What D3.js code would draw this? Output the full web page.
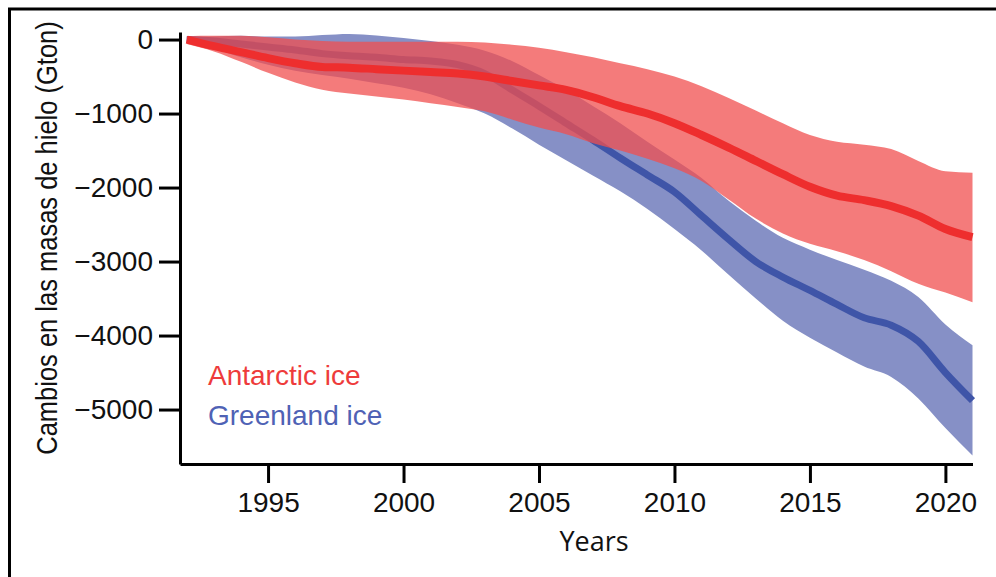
<!DOCTYPE html>
<html>
<head>
<meta charset="utf-8">
<script src="https://cdn.jsdelivr.net/npm/d3@7"></script>
<style>
  body { margin: 0; background: #fff; }
  svg { display: block; }
  .tick text { font-family: "Liberation Sans Narrow", "Arial Narrow", "Liberation Sans", Arial, sans-serif; font-size: 28px; fill: #111; }
</style>
</head>
<body>
<div id="chart"></div>
<script>
// values (Gton)
var years = [1992, 1993, 1994, 1995, 1996, 1997, 1998, 1999, 2000, 2001,
             2002, 2003, 2004, 2005, 2006, 2007, 2008, 2009, 2010, 2011,
             2012, 2013, 2014, 2015, 2016, 2017, 2018, 2019, 2020, 2021];

var antarcticMid = [0, -90, -170, -250, -320, -370, -380, -400, -420, -440,
                    -460, -500, -560, -620, -680, -780, -900, -1000, -1130, -1290,
                    -1460, -1640, -1820, -1990, -2110, -2170, -2250, -2380, -2560, -2670];
var antarcticHigh = [45, 50, 50, 30, 0, -20, -30, -30, -30, -30,
                     -30, -40, -70, -110, -170, -240, -320, -400, -500, -630,
                     -790, -960, -1130, -1290, -1380, -1420, -1480, -1640, -1780, -1800];
var antarcticLow = [-60, -160, -300, -450, -580, -680, -730, -770, -810, -860,
                    -910, -970, -1080, -1190, -1280, -1400, -1500, -1610, -1740, -1910,
                    -2160, -2420, -2620, -2760, -2860, -2980, -3130, -3300, -3420, -3550];

var greenlandMid = [0, -20, -60, -100, -140, -190, -220, -240, -270, -290,
                    -340, -460, -680, -900, -1130, -1360, -1600, -1830, -2060, -2380,
                    -2700, -3000, -3210, -3390, -3580, -3760, -3860, -4080, -4500, -4880];
var greenlandHigh = [30, 40, 50, 40, 40, 60, 75, 55, 20, -20,
                     -70, -150, -290, -480, -680, -900, -1130, -1380, -1620, -1870,
                     -2180, -2450, -2680, -2840, -2980, -3110, -3260, -3480, -3850, -4130];
var greenlandLow = [-30, -120, -240, -340, -420, -480, -530, -590, -650, -740,
                    -860, -1000, -1200, -1420, -1630, -1840, -2050, -2290, -2560, -2850,
                    -3180, -3500, -3800, -4030, -4230, -4420, -4560, -4850, -5250, -5620];

var xTicks = [1995, 2000, 2005, 2010, 2015, 2020];
var yTicks = [0, -1000, -2000, -3000, -4000, -5000];

var W = 996, H = 577;
var svg = d3.select('#chart').append('svg').attr('width', W).attr('height', H);

// outer frame (cut by the right and bottom edges)
svg.append('rect').attr('x', 9.5).attr('y', 9).attr('width', 1100).attr('height', 700)
    .attr('fill', 'none').attr('stroke', '#000').attr('stroke-width', 3);

var x = d3.scaleLinear().domain([1991.75, 2021]).range([180, 972.5]);
var y = d3.scaleLinear().domain([-5736, 102]).range([464, 32]);

function rows(mid, lo, hi){
    return years.map(function(yr, i){ return {x: yr, m: mid[i], lo: lo[i], hi: hi[i]}; });
}
var ant = rows(antarcticMid, antarcticLow, antarcticHigh);
var gre = rows(greenlandMid, greenlandLow, greenlandHigh);

var curve = d3.curveMonotoneX;
var band = d3.area().curve(curve)
    .x(function(d){ return x(d.x); })
    .y0(function(d){ return y(d.lo); })
    .y1(function(d){ return y(d.hi); });
var line = d3.line().curve(curve)
    .x(function(d){ return x(d.x); })
    .y(function(d){ return y(d.m); });

var g = svg.append('g');
g.append('path').datum(gre).attr('d', band).attr('fill', '#8690c6');
g.append('path').datum(gre).attr('d', line).attr('fill', 'none')
    .attr('stroke', '#3f55a8').attr('stroke-width', 7);
g.append('path').datum(ant).attr('d', band).attr('fill', 'rgb(240,79,79)').attr('fill-opacity', 0.75);
g.append('path').datum(ant).attr('d', line).attr('fill', 'none')
    .attr('stroke', '#ee2e2e').attr('stroke-width', 8);

// axes
var yAxis = d3.axisLeft(y).tickValues(yTicks).tickFormat(d3.format('d'))
    .tickSize(21).tickSizeOuter(0).tickPadding(6);
var xAxis = d3.axisBottom(x).tickValues(xTicks).tickFormat(d3.format('d'))
    .tickSize(19).tickSizeOuter(0).tickPadding(9);

var ya = svg.append('g').attr('transform', 'translate(180,0)').call(yAxis);
var xa = svg.append('g').attr('transform', 'translate(0,464)').call(xAxis);
[ya, xa].forEach(function(a){
    a.selectAll('path, line').attr('stroke', '#000').attr('stroke-width', 3);
});

// labels (title squeezed horizontally to look like the narrow original)
svg.append('text')
    .attr('transform', 'translate(57,238) rotate(-90) scale(0.85,1)')
    .attr('text-anchor', 'middle')
    .style('font-family', '"Liberation Sans", Arial, sans-serif')
    .style('font-size', '30px').style('fill', '#111')
    .text('Cambios en las masas de hielo (Gton)');

svg.append('text')
    .attr('x', 594).attr('y', 551).attr('text-anchor', 'middle')
    .style('font-family', '"Open Sans", sans-serif')
    .style('font-size', '27px').style('fill', '#111')
    .text('Years');

svg.append('text').attr('x', 208).attr('y', 385)
    .style('font-family', '"Liberation Sans", Arial, sans-serif')
    .style('font-size', '28px').style('fill', '#ee3b3b')
    .text('Antarctic ice');
svg.append('text').attr('x', 208).attr('y', 425)
    .style('font-family', '"Liberation Sans", Arial, sans-serif')
    .style('font-size', '28px').style('fill', '#4f62b5')
    .text('Greenland ice');
</script>
</body>
</html>
